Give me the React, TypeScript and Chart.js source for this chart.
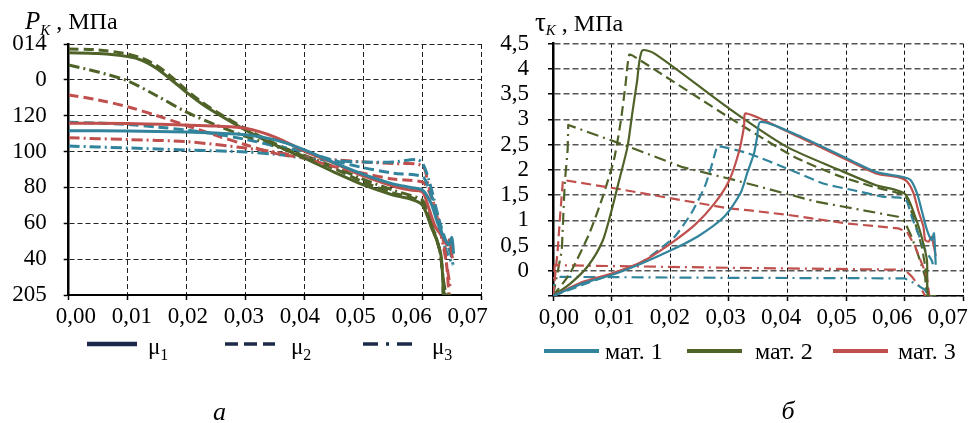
import React, { useEffect, useRef } from "react";
import { Chart, registerables } from "chart.js";

Chart.register(...registerables);

const SERIF = "'Liberation Serif', 'Times New Roman', Times, serif";

const TEAL = "#31849b";
const GREEN = "#4f6228";
const RED = "#c0504d";
const NAVY = "#1b2a48";

// ---------- shared x axis ----------
const xTickValues = [0, 0.01, 0.02, 0.03, 0.04, 0.05, 0.06, 0.07];
const xTickLabels = ["0,00", "0,01", "0,02", "0,03", "0,04", "0,05", "0,06", "0,07"];

// ---------- chart а : P_K, МПа ----------
const pTickValues = [20, 40, 60, 80, 100, 120, 140, 160];
const pTickLabels = ["205", "40", "60", "80", "100", "120", "0", "014"];

const pMat1Mu1 = [[0, 111.6], [0.01, 111.5], [0.02, 110.9], [0.025, 110.3], [0.03, 109.4], [0.035, 106.5], [0.04, 101], [0.045, 93.8], [0.05, 87.3], [0.055, 82], [0.058, 80], [0.06, 78.6], [0.0615, 71], [0.0625, 61], [0.0635, 53], [0.0645, 48], [0.065, 52], [0.0653, 43]];
const pMat1Mu2 = [[0, 116.3], [0.005, 115.9], [0.01, 115.1], [0.015, 113.7], [0.02, 112], [0.025, 109.8], [0.03, 106.8], [0.035, 103.2], [0.04, 100], [0.045, 95], [0.05, 91], [0.055, 88], [0.06, 86], [0.061, 80], [0.062, 71], [0.063, 60], [0.064, 50], [0.0648, 43], [0.0652, 37]];
const pMat1Mu3 = [[0, 103.1], [0.01, 102], [0.02, 100.9], [0.03, 99.8], [0.035, 98.5], [0.04, 96.4], [0.045, 95], [0.05, 94.2], [0.055, 94.2], [0.059, 95.6], [0.06, 93.6], [0.061, 85.3], [0.062, 73], [0.063, 59], [0.064, 45], [0.0652, 36.7]];

const pMat2Mu1 = [[0, 155.1], [0.005, 154.7], [0.01, 153], [0.0125, 150.8], [0.015, 146.2], [0.0175, 139.8], [0.02, 133], [0.0225, 126.8], [0.025, 121.5], [0.03, 112], [0.035, 103.7], [0.04, 96.3], [0.045, 88.6], [0.05, 81.4], [0.055, 75.8], [0.058, 73.5], [0.06, 70.2], [0.0615, 58], [0.0626, 49], [0.0632, 41.3], [0.0635, 26.5], [0.0636, 20], [0.0649, 20]];
const pMat2Mu2 = [[0, 157.2], [0.005, 156.7], [0.01, 154.4], [0.0125, 152], [0.015, 147.8], [0.0175, 141.5], [0.02, 134.2], [0.0225, 127.8], [0.025, 122.3], [0.03, 112.8], [0.035, 104.5], [0.04, 97.2], [0.045, 90.5], [0.05, 83], [0.055, 77], [0.058, 74.5], [0.06, 71.5], [0.061, 65], [0.062, 55], [0.063, 44], [0.0635, 30], [0.0638, 20], [0.065, 20]];
const pMat2Mu3 = [[0, 148.3], [0.005, 144.4], [0.01, 139.4], [0.015, 131], [0.02, 122], [0.025, 114.8], [0.03, 108.5], [0.035, 103], [0.04, 97.8], [0.045, 91.5], [0.05, 84.5], [0.055, 78.5], [0.058, 75.5], [0.06, 73], [0.061, 66], [0.062, 56], [0.063, 44], [0.0635, 30], [0.064, 20]];

const pMat3Mu1 = [[0, 115.8], [0.01, 115.7], [0.02, 114.8], [0.025, 114.2], [0.03, 113], [0.035, 108.1], [0.04, 100.3], [0.045, 93.6], [0.05, 86.4], [0.055, 80.8], [0.058, 78.5], [0.06, 77.5], [0.061, 69.3], [0.0622, 58.1], [0.0634, 52.5], [0.0642, 47.9], [0.0646, 50.7], [0.0651, 40.5]];
const pMat3Mu2 = [[0, 131.6], [0.005, 128.8], [0.01, 125], [0.015, 120], [0.02, 114.5], [0.025, 109], [0.03, 103.8], [0.035, 99], [0.04, 96.3], [0.045, 91.6], [0.05, 87.9], [0.055, 84.7], [0.06, 83], [0.061, 78.6], [0.062, 70.2], [0.063, 59], [0.0637, 48], [0.0642, 34], [0.0645, 20]];
const pMat3Mu3 = [[0, 107.7], [0.01, 106.7], [0.02, 105.5], [0.03, 102], [0.035, 99.8], [0.04, 97], [0.05, 94.2], [0.055, 93.3], [0.06, 92], [0.061, 81.4], [0.062, 70.2], [0.063, 56.3], [0.064, 39.5], [0.0648, 22.8]];

// ---------- chart б : tau_K, МПа ----------
const tauTickValues = [-0.5, 0, 0.5, 1, 1.5, 2, 2.5, 3, 3.5, 4, 4.5];
const tauTickLabels = ["", "0", "0,5", "1", "1,5", "2", "2,5", "3", "3,5", "4", "4,5"];

const tMat1Mu1 = [[0, -0.5], [0.0051, -0.25], [0.0101, -0.08], [0.0152, 0.15], [0.0202, 0.41], [0.0247, 0.68], [0.0292, 1.07], [0.032, 1.54], [0.0332, 1.96], [0.0343, 2.33], [0.0348, 2.63], [0.0354, 2.95], [0.0411, 2.72], [0.0506, 2.2], [0.0551, 1.96], [0.0596, 1.86], [0.061, 1.8], [0.0621, 1.54], [0.0629, 1.2], [0.0638, 0.81], [0.0646, 0.61], [0.065, 0.74], [0.0653, 0.12]];
const tMat1Mu2 = [[0, -0.5], [0.005, -0.28], [0.01, -0.07], [0.015, 0.16], [0.018, 0.41], [0.0208, 0.68], [0.0236, 1.14], [0.0259, 1.67], [0.027, 2.06], [0.0278, 2.39], [0.0281, 2.47], [0.0332, 2.33], [0.0405, 2.0], [0.0461, 1.73], [0.0511, 1.6], [0.0562, 1.47], [0.0601, 1.42], [0.0612, 1.07], [0.0623, 0.74], [0.0635, 0.41], [0.0646, 0.21], [0.065, 0.05]];
const tMat1Mu3 = [[0, -0.5], [0.0003, -0.12], [0.03, -0.14], [0.06, -0.15], [0.0617, -0.25], [0.0635, -0.38], [0.064, -0.5]];

const tMat2Mu1 = [[0, -0.5], [0.003, -0.25], [0.006, 0.1], [0.0085, 0.6], [0.01, 1.2], [0.0113, 1.8], [0.0127, 2.45], [0.0135, 3.1], [0.0143, 3.72], [0.0152, 4.36], [0.0174, 4.3], [0.03, 3.22], [0.04, 2.45], [0.0488, 2.0], [0.055, 1.7], [0.06, 1.53], [0.0618, 1.07], [0.0629, 0.67], [0.0638, 0.21], [0.064, -0.5], [0.0654, -0.5]];
const tMat2Mu2 = [[0, -0.5], [0.0029, -0.05], [0.0062, 0.74], [0.0085, 1.47], [0.0104, 2.2], [0.0116, 2.99], [0.0124, 3.72], [0.013, 4.28], [0.0138, 4.25], [0.0303, 3.02], [0.0411, 2.26], [0.0483, 1.9], [0.0545, 1.67], [0.059, 1.54], [0.0601, 1.5], [0.0618, 0.94], [0.0629, 0.48], [0.0635, 0.08], [0.064, -0.5]];
const tMat2Mu3 = [[0, -0.5], [0.0015, 0.4], [0.002, 1.73], [0.0025, 2.4], [0.0026, 2.89], [0.0129, 2.46], [0.0219, 2.06], [0.0309, 1.8], [0.0449, 1.37], [0.0589, 1.07], [0.06, 0.97], [0.0612, 0.67], [0.0624, 0.28], [0.0635, -0.12], [0.0637, -0.5]];

const tMat3Mu1 = [[0, -0.5], [0.0051, -0.22], [0.0101, -0.05], [0.0152, 0.18], [0.0197, 0.51], [0.0242, 0.91], [0.0276, 1.34], [0.0301, 1.8], [0.0318, 2.39], [0.0326, 2.86], [0.0329, 3.12], [0.04, 2.76], [0.0501, 2.2], [0.0551, 1.93], [0.059, 1.85], [0.0604, 1.77], [0.0615, 1.54], [0.0623, 1.2], [0.0632, 0.87], [0.0635, 0.61], [0.0641, 0.58], [0.0646, 0.67], [0.0653, 0.29]];
const tMat3Mu2 = [[0, -0.5], [0.0008, 0.4], [0.0012, 1.07], [0.0017, 1.8], [0.0107, 1.63], [0.0219, 1.4], [0.0298, 1.24], [0.0332, 1.2], [0.0399, 1.11], [0.05, 0.94], [0.0589, 0.84], [0.0604, 0.77], [0.0618, 0.48], [0.0629, 0.15], [0.0638, -0.11], [0.0642, -0.5]];
const tMat3Mu3 = [[0, -0.5], [0.0003, 0.11], [0.03, 0.06], [0.06, 0.02], [0.0612, -0.11], [0.0629, -0.37], [0.0635, -0.5]];

// ---------- legends ----------
const muLegendNames = ["μ", "μ", "μ"];
const muLegendSubs = ["1", "2", "3"];
const matLegendNames = ["мат. 1", "мат. 2", "мат. 3"];
const matColors = [TEAL, GREEN, RED];

// ---------- styles ----------
const DASH_L = [10, 5];
const DASHDOT_L = [11, 4, 2, 4];
const DASH_R = [10, 5];
const DASHDOT_R = [12, 5, 2, 5];
const muLegendDash = [[], [13, 6], [15, 8, 3, 8]];

function line(pts: number[][], color: string, dash: number[], width: number, tension: number) {
  return {
    data: pts.map(([x, y]) => ({ x, y })),
    borderColor: color,
    backgroundColor: color,
    borderDash: dash,
    borderWidth: width,
    tension,
    pointRadius: 0,
    fill: false,
    borderCapStyle: "butt",
    borderJoinStyle: "round",
  };
}

function setTicks(values: number[]) {
  return (scale: any) => {
    scale.ticks = values.map((v) => ({ value: v }));
  };
}

function drawRich(ctx: CanvasRenderingContext2D, x: number, y: number, parts: { text: string; font: string; dy: number }[]) {
  let cx = x;
  ctx.fillStyle = "#000";
  ctx.textAlign = "left";
  ctx.textBaseline = "alphabetic";
  for (const p of parts) {
    ctx.font = p.font;
    ctx.fillText(p.text, cx, y + p.dy);
    cx += ctx.measureText(p.text).width;
  }
}

function makeScales(opts: {
  yMin: number; yMax: number; yValues: number[]; yLabels: string[]; yWidth: number; yPad: number;
  labMin: number; labMax: number;
  hColor: string; hWidth: number; hDash: number[];
  vColor: string; vWidth: number; vDash: number[];
  yBorder: number; xBorder: number;
}) {
  const tickFont = { family: SERIF, size: 23 };
  return {
    x: {
      type: "linear",
      position: "bottom",
      weight: 0,
      min: 0,
      max: 0.07,
      afterBuildTicks: setTicks(xTickValues),
      afterFit: (s: any) => { s.height = 6; },
      ticks: { display: false },
      grid: { color: opts.vColor, lineWidth: opts.vWidth, drawTicks: true, tickLength: 5, tickColor: "#000", tickWidth: 1.5, tickBorderDash: [] },
      border: { display: true, color: "#000", width: opts.xBorder, dash: opts.vDash },
    },
    xl: {
      type: "linear",
      axis: "x",
      position: "bottom",
      weight: 1,
      min: opts.labMin,
      max: opts.labMax,
      afterBuildTicks: setTicks(xTickValues),
      afterFit: (s: any) => { s.height = 40; },
      ticks: {
        autoSkip: false,
        maxRotation: 0,
        padding: 2,
        color: "#000",
        font: tickFont,
        callback: (_v: any, i: number) => xTickLabels[i],
      },
      grid: { display: false, drawTicks: false },
      border: { display: false },
    },
    y: {
      type: "linear",
      position: "left",
      min: opts.yMin,
      max: opts.yMax,
      afterBuildTicks: setTicks(opts.yValues),
      afterFit: (s: any) => { s.width = opts.yWidth; },
      ticks: {
        autoSkip: false,
        padding: opts.yPad,
        color: "#000",
        font: tickFont,
        callback: (_v: any, i: number) => opts.yLabels[i],
      },
      grid: { color: opts.hColor, lineWidth: opts.hWidth, drawTicks: true, tickLength: 5, tickColor: "#000", tickWidth: 1.5, tickBorderDash: [] },
      border: { display: true, color: "#000", width: opts.yBorder, dash: opts.hDash },
    },
  };
}

export default function App() {
  const leftRef = useRef<HTMLCanvasElement | null>(null);
  const rightRef = useRef<HTMLCanvasElement | null>(null);

  useEffect(() => {
    if (!leftRef.current || !rightRef.current) return;
    const LW = 3;
    const leftOverlay = {
      id: "leftOverlay",
      afterDraw(chart: any) {
        const ctx: CanvasRenderingContext2D = chart.ctx;
        ctx.save();
        drawRich(ctx, 25, 29, [
          { text: "P", font: `italic 25px ${SERIF}`, dy: 0 },
          { text: "K", font: `italic 15px ${SERIF}`, dy: 6 },
          { text: " , МПа", font: `24px ${SERIF}`, dy: 0 },
        ]);
        const lineX = [87, 225, 363];
        const textX = [148, 291, 432];
        for (let i = 0; i < muLegendNames.length; i++) {
          ctx.strokeStyle = NAVY;
          ctx.lineWidth = i === 0 ? 4.5 : 3.5;
          ctx.lineCap = "butt";
          ctx.setLineDash(muLegendDash[i]);
          ctx.beginPath();
          ctx.moveTo(lineX[i], 344);
          ctx.lineTo(lineX[i] + 50, 344);
          ctx.stroke();
          ctx.setLineDash([]);
          drawRich(ctx, textX[i], 354, [
            { text: muLegendNames[i], font: `23px ${SERIF}`, dy: 0 },
            { text: muLegendSubs[i], font: `16px ${SERIF}`, dy: 6 },
          ]);
        }
        ctx.font = `italic 26px ${SERIF}`;
        ctx.textAlign = "center";
        ctx.fillStyle = "#000";
        ctx.fillText("а", 219.5, 420);
        ctx.restore();
      },
    };

    const rightOverlay = {
      id: "rightOverlay",
      afterDraw(chart: any) {
        const ctx: CanvasRenderingContext2D = chart.ctx;
        ctx.save();
        drawRich(ctx, 45, 31, [
          { text: "τ", font: `27px ${SERIF}`, dy: 0 },
          { text: "K", font: `italic 15px ${SERIF}`, dy: 4 },
          { text: " , МПа", font: `24px ${SERIF}`, dy: 0 },
        ]);
        const lineX = [54, 197, 343];
        const textX = [115, 265, 408];
        for (let i = 0; i < matLegendNames.length; i++) {
          ctx.strokeStyle = matColors[i];
          ctx.lineWidth = 4;
          ctx.lineCap = "butt";
          ctx.setLineDash([]);
          ctx.beginPath();
          ctx.moveTo(lineX[i], 351);
          ctx.lineTo(lineX[i] + 55, 351);
          ctx.stroke();
          drawRich(ctx, textX[i], 359, [{ text: matLegendNames[i], font: `24px ${SERIF}`, dy: 0 }]);
        }
        ctx.font = `italic 26px ${SERIF}`;
        ctx.textAlign = "center";
        ctx.fillStyle = "#000";
        ctx.fillText("б", 298, 419);
        ctx.restore();
      },
    };

    const left = new Chart(leftRef.current, {
      type: "line",
      data: {
        datasets: [
          line(pMat1Mu1, TEAL, [], LW, 0.3),
          line(pMat3Mu1, RED, [], LW, 0.3),
          line(pMat2Mu1, GREEN, [], LW, 0.3),
          line(pMat1Mu2, TEAL, DASH_L, LW, 0.3),
          line(pMat3Mu2, RED, DASH_L, LW, 0.3),
          line(pMat2Mu2, GREEN, DASH_L, LW, 0.3),
          line(pMat1Mu3, TEAL, DASHDOT_L, LW, 0.3),
          line(pMat3Mu3, RED, DASHDOT_L, LW, 0.3),
          line(pMat2Mu3, GREEN, DASHDOT_L, LW, 0.3),
        ] as any,
      },
      options: {
        responsive: false,
        animation: false,
        devicePixelRatio: 1,
        events: [],
        layout: { autoPadding: false, padding: { left: 0, right: 8.3, top: 44, bottom: 82 } },
        plugins: { legend: { display: false }, tooltip: { enabled: false }, title: { display: false } },
        scales: makeScales({
          yMin: 20, yMax: 160, yValues: pTickValues, yLabels: pTickLabels, yWidth: 68.7, yPad: 17,
          labMin: -0.0013, labMax: 0.07245,
          hColor: "#222", hWidth: 1, hDash: [5, 3],
          vColor: "#222", vWidth: 1, vDash: [5, 3],
          yBorder: 2.5, xBorder: 2,
        }) as any,
      } as any,
      plugins: [leftOverlay],
    });

    const right = new Chart(rightRef.current, {
      type: "line",
      data: {
        datasets: [
          line(tMat1Mu1, TEAL, [], 2.2, 0.25),
          line(tMat3Mu1, RED, [], 2.2, 0.25),
          line(tMat2Mu1, GREEN, [], 2.2, 0.25),
          line(tMat1Mu2, TEAL, DASH_R, 2.2, 0.2),
          line(tMat3Mu2, RED, DASH_R, 2.2, 0),
          line(tMat2Mu2, GREEN, DASH_R, 2.2, 0.2),
          line(tMat1Mu3, TEAL, DASHDOT_R, 2.2, 0),
          line(tMat3Mu3, RED, DASHDOT_R, 2.2, 0),
          line(tMat2Mu3, GREEN, DASHDOT_R, 2.2, 0),
        ] as any,
      },
      options: {
        responsive: false,
        animation: false,
        devicePixelRatio: 1,
        events: [],
        layout: { autoPadding: false, padding: { left: 0, right: 1, top: 43.7, bottom: 81 } },
        plugins: { legend: { display: false }, tooltip: { enabled: false }, title: { display: false } },
        scales: makeScales({
          yMin: -0.5, yMax: 4.5, yValues: tauTickValues, yLabels: tauTickLabels, yWidth: 63, yPad: 19,
          labMin: -0.001066, labMax: 0.07282,
          hColor: "#555", hWidth: 1.5, hDash: [6, 3],
          vColor: "#111", vWidth: 1, vDash: [4, 3],
          yBorder: 2.5, xBorder: 1.5,
        }) as any,
      } as any,
      plugins: [rightOverlay],
    });

    return () => {
      left.destroy();
      right.destroy();
    };
  }, []);

  return (
    <div style={{ position: "absolute", left: 0, top: 0, width: 970, height: 423, background: "#fff", overflow: "hidden" }}>
      <canvas ref={leftRef} width={490} height={423} style={{ position: "absolute", left: 0, top: 0, width: 490, height: 423 }} />
      <canvas ref={rightRef} width={480} height={423} style={{ position: "absolute", left: 490, top: 0, width: 480, height: 423 }} />
    </div>
  );
}
